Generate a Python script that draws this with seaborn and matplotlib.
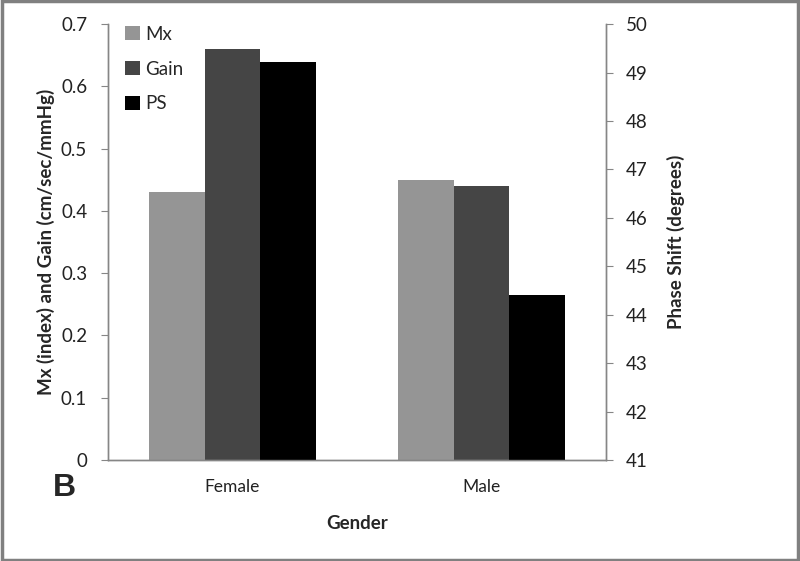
import numpy as np
import pandas as pd
import matplotlib
matplotlib.use("Agg")
import matplotlib.pyplot as plt
from matplotlib.patches import Patch, Rectangle
import seaborn as sns

genders = ["Female", "Male"]
mx = [0.43, 0.45]
gain = [0.66, 0.44]
ps = [49.21, 44.40]
series = ["Mx", "Gain", "PS"]
colors = {"Mx": "#959595", "Gain": "#454545", "PS": "#000000"}

sns.set_style("white")
plt.rcParams["font.family"] = ["Lato", "DejaVu Sans"]

left_df = pd.DataFrame({
    "Gender": genders * 3,
    "series": ["Mx"] * 2 + ["Gain"] * 2 + ["PS"] * 2,
    "value": mx + gain + [np.nan, np.nan],
})
right_df = pd.DataFrame({
    "Gender": genders * 3,
    "series": ["Mx"] * 2 + ["Gain"] * 2 + ["PS"] * 2,
    "value": [np.nan] * 4 + ps,
})

fig = plt.figure(figsize=(8, 5.61), dpi=100)
ax = fig.add_axes([0.135, 0.18, 0.6225, 0.777])

sns.barplot(data=left_df, x="Gender", y="value", hue="series", hue_order=series,
            order=genders, palette=colors, width=0.667, saturation=1,
            errorbar=None, ax=ax, legend=False)
ax2 = ax.twinx()
sns.barplot(data=right_df, x="Gender", y="value", hue="series", hue_order=series,
            order=genders, palette=colors, width=0.667, saturation=1,
            errorbar=None, ax=ax2, legend=False)

for b in ax.patches + ax2.patches:
    b.set_linewidth(0)

ax.set_ylim(0, 0.7)
ax.set_yticks(np.arange(0, 0.71, 0.1))
ax.set_yticklabels(["0", "0.1", "0.2", "0.3", "0.4", "0.5", "0.6", "0.7"])
ax2.set_ylim(41, 50)
ax2.set_yticks(range(41, 51))
ax.set_xlim(-0.5, 1.5)

ax.set_xticks([-0.5, 0.5, 1.5], minor=True)
ax.tick_params(axis="x", which="major", length=0, pad=14, labelsize=12.5, labelcolor="#222222")
ax.tick_params(axis="x", which="minor", length=5, color="#868686", width=1, direction="out")
ax.tick_params(axis="y", length=5, color="#868686", direction="out", labelsize=13.5,
               labelcolor="#222222", left=True, pad=10)
ax2.tick_params(axis="y", length=5, color="#868686", direction="out", labelsize=13.5,
                labelcolor="#222222", right=True, pad=9)

for a in (ax, ax2):
    a.spines["top"].set_visible(False)
    for s in ("left", "right", "bottom"):
        a.spines[s].set_color("#868686")
        a.spines[s].set_linewidth(1)

ax.set_xlabel("Gender", fontsize=13.5, fontweight="bold", labelpad=14)
ax.set_ylabel("Mx (index) and Gain (cm/sec/mmHg)", fontsize=13.5, fontweight="bold", labelpad=4)
ax2.set_ylabel("Phase Shift (degrees)", fontsize=13.5, fontweight="bold", labelpad=14)

handles = [Patch(facecolor=colors[s], edgecolor="none", label=s) for s in series]
ax.legend(handles=handles, loc="upper left", bbox_to_anchor=(0.0, 1.035), frameon=False,
          fontsize=13.5, handlelength=0.8, handleheight=0.8, labelspacing=0.95,
          handletextpad=0.3, borderaxespad=0.5)

fig.text(0.066, 0.115, "B", fontsize=23, fontweight="bold", family="Liberation Sans")
fig.patches.append(Rectangle((0.002, 0.002), 0.996, 0.996, transform=fig.transFigure,
                             fill=False, edgecolor="#808080", linewidth=2.5))

fig.savefig("out.png", dpi=100)
